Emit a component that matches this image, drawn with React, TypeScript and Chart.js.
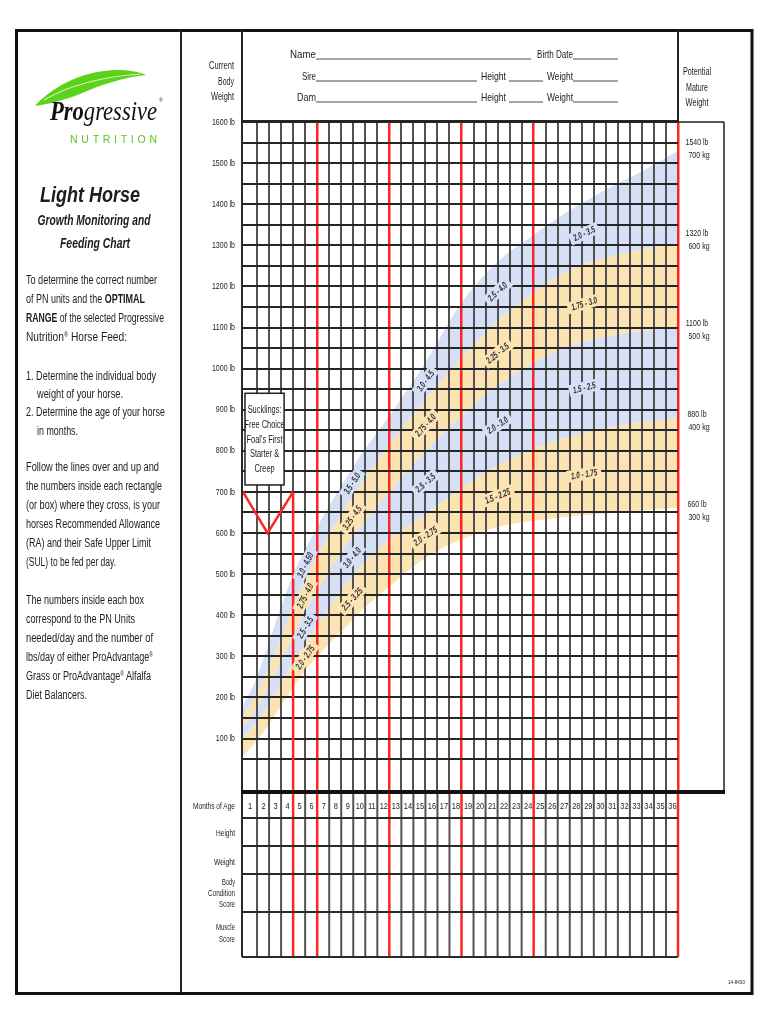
import React, { useEffect, useRef } from 'react';
import { Chart, registerables } from 'chart.js';

Chart.register(...registerables);

// ---------------- DATA ----------------
const MONTH_POINTS = [-0.25, 1, 2, 3, 4, 5, 6, 8, 10, 12, 15, 18, 21, 24, 27, 30, 33, 36];
// band edges (lb) from top to bottom
const EDGE_1 = [175, 250, 335, 420, 500, 560, 615, 715, 805, 885, 1015, 1160, 1260, 1325, 1385, 1435, 1480, 1530];
const EDGE_2 = [150, 210, 275, 345, 420, 485, 545, 645, 735, 815, 925, 1025, 1115, 1185, 1240, 1270, 1290, 1305];
const EDGE_3 = [125, 175, 230, 290, 350, 410, 460, 555, 630, 700, 800, 885, 960, 1015, 1055, 1078, 1092, 1100];
const EDGE_4 = [100, 140, 185, 235, 285, 330, 375, 460, 530, 585, 645, 710, 765, 805, 835, 855, 870, 880];
const EDGE_5 = [55, 95, 135, 180, 225, 265, 300, 360, 420, 470, 540, 585, 615, 630, 640, 648, 655, 662];
const BAND_EDGES = [EDGE_1, EDGE_2, EDGE_3, EDGE_4, EDGE_5];

const BLUE = '#d5e0f6';
const YELLOW = '#fce3b2';
const BAND_COLORS = [BLUE, YELLOW, BLUE, YELLOW];

const LABEL_MONTHS = [5, 8.9, 15, 21, 28.2];
const BAND_LABELS = [
  ['3.0 - 4.50', '3.5 - 5.0', '3.0 - 4.5', '2.5 - 4.0', '2.0 - 3.5'],
  ['2.75 - 4.0', '3.25 - 4.5', '2.75 - 4.0', '2.25 - 3.5', '1.75 - 3.0'],
  ['2.5 - 3.5', '3.0 - 4.0', '2.5 - 3.5', '2.0 - 3.0', '1.5 - 2.5'],
  ['2.0 - 2.75', '2.5 - 3.25', '2.0 - 2.75', '1.5 - 2.25', '1.0 - 1.75'],
];

const MONTH_LABELS = ['1', '2', '3', '4', '5', '6', '7', '8', '9', '10', '11', '12', '13', '14', '15', '16', '17', '18',
  '19', '20', '21', '22', '23', '24', '25', '26', '27', '28', '29', '30', '31', '32', '33', '34', '35', '36'];
const RED_MONTHS = [6, 12, 18, 24, 36];
const WEIGHT_LABELS = [100, 200, 300, 400, 500, 600, 700, 800, 900, 1000, 1100, 1200, 1300, 1400, 1500, 1600];
const GRID_WEIGHTS = [50, 100, 150, 200, 250, 300, 350, 400, 450, 500, 550, 600, 650, 700, 750, 800, 850, 900,
  950, 1000, 1050, 1100, 1150, 1200, 1250, 1300, 1350, 1400, 1450, 1500, 1550, 1600];
const MATURE_LB = [1540, 1320, 1100, 880, 660];
const MATURE_KG = [700, 600, 500, 400, 300];
const SUCKLING_LINES = ['Sucklings:', 'Free Choice', "Foal's First", 'Starter &', 'Creep'];
const V_MONTHS = [-0.25, 1.875, 4];
const V_WEIGHTS = [700, 600, 700];

// ---------------- STYLE ----------------
const RED = '#ff2424';
const GRID_DARK = '#262626';
const GRID_GRAY = '#525252';
const CANVAS_FONT = '"Liberation Sans", Arial, sans-serif';
const SANS = '"Liberation Sans", Arial, sans-serif';
const SERIF = '"Liberation Serif", "Times New Roman", serif';
const INK = '#1c1c1c';

function interp(edge: number[], m: number) {
  for (let i = 0; i < MONTH_POINTS.length - 1; i++) {
    const a = MONTH_POINTS[i];
    const b = MONTH_POINTS[i + 1];
    if (m >= a && m <= b) {
      const t = (m - a) / (b - a);
      return edge[i] + t * (edge[i + 1] - edge[i]);
    }
  }
  return edge[edge.length - 1];
}

function narrowText(ctx: CanvasRenderingContext2D, txt: string, x: number, y: number, sx: number, align: CanvasTextAlign) {
  ctx.save();
  ctx.translate(x, y);
  ctx.scale(sx, 1);
  ctx.textAlign = align;
  ctx.textBaseline = 'middle';
  ctx.fillText(txt, 0, 0);
  ctx.restore();
}

const extrasPlugin = {
  id: 'extras',
  afterDraw(chart: any) {
    const ctx: CanvasRenderingContext2D = chart.ctx;
    const xs = chart.scales.x;
    const ys = chart.scales.y;
    const { left, right, top, bottom } = chart.chartArea;
    const rows = [bottom, bottom + 26, bottom + 54, bottom + 82, bottom + 120, bottom + 165];
    const tableBottom = rows[5];

    ctx.save();
    // red month-4 line below 700 lb and the V
    ctx.strokeStyle = RED;
    ctx.lineWidth = 2.5;
    ctx.beginPath();
    ctx.moveTo(xs.getPixelForValue(4), ys.getPixelForValue(700));
    ctx.lineTo(xs.getPixelForValue(4), bottom);
    ctx.stroke();
    ctx.beginPath();
    V_MONTHS.forEach((m, i) => {
      const px = Math.max(left + 1, xs.getPixelForValue(m));
      const py = ys.getPixelForValue(V_WEIGHTS[i]);
      if (i === 0) ctx.moveTo(px, py); else ctx.lineTo(px, py);
    });
    ctx.stroke();

    // band labels with knockouts
    ctx.font = `italic bold 9.5px ${CANVAS_FONT}`;
    BAND_LABELS.forEach((row, b) => {
      const mid = (mm: number) => (interp(BAND_EDGES[b], mm) + interp(BAND_EDGES[b + 1], mm)) / 2;
      row.forEach((txt, c) => {
        const m = LABEL_MONTHS[c];
        const px = xs.getPixelForValue(m);
        const py = ys.getPixelForValue(mid(m));
        const d = 1;
        const ang = Math.atan2(
          ys.getPixelForValue(mid(m + d)) - ys.getPixelForValue(mid(m - d)),
          xs.getPixelForValue(m + d) - xs.getPixelForValue(m - d)
        );
        const sx = 0.66;
        const w = ctx.measureText(txt).width * sx;
        ctx.save();
        ctx.translate(px, py);
        ctx.rotate(ang);
        ctx.fillStyle = BAND_COLORS[b];
        ctx.fillRect(-w / 2 - 4, -6, w + 8, 12);
        ctx.scale(sx, 1);
        ctx.fillStyle = '#303030';
        ctx.textAlign = 'center';
        ctx.textBaseline = 'middle';
        ctx.fillText(txt, 0, 0.5);
        ctx.restore();
      });
    });

    // sucklings box
    const bx0 = xs.getPixelForValue(0);
    const bx1 = xs.getPixelForValue(3.25);
    const by0 = ys.getPixelForValue(940);
    const by1 = ys.getPixelForValue(717);
    ctx.fillStyle = '#ffffff';
    ctx.fillRect(bx0, by0, bx1 - bx0, by1 - by0);
    ctx.strokeStyle = '#222';
    ctx.lineWidth = 1.5;
    ctx.strokeRect(bx0, by0, bx1 - bx0, by1 - by0);
    ctx.fillStyle = INK;
    ctx.font = `10px ${CANVAS_FONT}`;
    SUCKLING_LINES.forEach((t, i) => {
      narrowText(ctx, t, (bx0 + bx1) / 2, by0 + 17 + i * 14.8, 0.74, 'center');
    });

    // y labels
    ctx.font = `9.5px ${CANVAS_FONT}`;
    ctx.fillStyle = INK;
    WEIGHT_LABELS.forEach((v) => {
      narrowText(ctx, `${v} lb`, left - 7, ys.getPixelForValue(v), 0.74, 'right');
    });

    // right column box + mature weights
    const colRight = right + 46;
    ctx.strokeStyle = '#222';
    ctx.lineWidth = 1.5;
    ctx.beginPath();
    ctx.moveTo(right, top);
    ctx.lineTo(colRight, top);
    ctx.moveTo(colRight, top);
    ctx.lineTo(colRight, bottom);
    ctx.stroke();
    ctx.font = `9.5px ${CANVAS_FONT}`;
    ctx.fillStyle = INK;
    MATURE_LB.forEach((lb, i) => {
      const py = ys.getPixelForValue(lb);
      narrowText(ctx, `${lb} lb`, right + 19, py - 4, 0.74, 'center');
      narrowText(ctx, `${MATURE_KG[i]} kg`, right + 21, py + 9, 0.74, 'center');
    });

    // table below the chart
    MONTH_LABELS.forEach((_, i) => {
      const m = i + 1;
      const px = xs.getPixelForValue(m);
      const red = RED_MONTHS.includes(m) || m === 4;
      ctx.strokeStyle = red ? RED : GRID_GRAY;
      ctx.lineWidth = red ? 2.5 : 2;
      ctx.beginPath();
      ctx.moveTo(px, bottom);
      ctx.lineTo(px, tableBottom);
      ctx.stroke();
    });
    ctx.strokeStyle = '#2a2a2a';
    ctx.lineWidth = 2;
    for (let r = 1; r < rows.length; r++) {
      ctx.beginPath();
      ctx.moveTo(left, rows[r]);
      ctx.lineTo(right, rows[r]);
      ctx.stroke();
    }
    // left border
    ctx.beginPath();
    ctx.moveTo(left, top);
    ctx.lineTo(left, tableBottom);
    ctx.stroke();
    // thick line at chart bottom
    ctx.strokeStyle = '#111';
    ctx.lineWidth = 4;
    ctx.beginPath();
    ctx.moveTo(left - 1, bottom);
    ctx.lineTo(colRight + 1, bottom);
    ctx.stroke();

    // month numbers
    ctx.font = `9.5px ${CANVAS_FONT}`;
    ctx.fillStyle = INK;
    MONTH_LABELS.forEach((lab, i) => {
      const m = i + 1;
      const x0 = i === 0 ? left : xs.getPixelForValue(m - 1);
      const x1 = xs.getPixelForValue(m);
      narrowText(ctx, lab, (x0 + x1) / 2 + 0.5, (rows[0] + rows[1]) / 2 + 1, 0.78, 'center');
    });
    ctx.restore();
  },
};

// ---------------- STATIC TEXT ----------------
type Seg = { t: string; b?: boolean; sup?: boolean };
const PARA_LINES: { segs: Seg[]; x: number; y: number; w: number }[] = [
  { segs: [{ t: 'To determine the correct number' }], x: 26, y: 284, w: 131 },
  { segs: [{ t: 'of PN units and the ' }, { t: 'OPTIMAL', b: true }], x: 26, y: 303, w: 119 },
  { segs: [{ t: 'RANGE', b: true }, { t: ' of the selected Progressive' }], x: 26, y: 322, w: 138 },
  { segs: [{ t: 'Nutrition' }, { t: '®', sup: true }, { t: ' Horse Feed:' }], x: 26, y: 341, w: 101 },
  { segs: [{ t: '1. Determine the individual body' }], x: 26, y: 380, w: 130 },
  { segs: [{ t: 'weight of your horse.' }], x: 37, y: 398, w: 86 },
  { segs: [{ t: '2. Determine the age of your horse' }], x: 26, y: 416, w: 139 },
  { segs: [{ t: 'in months.' }], x: 37, y: 435, w: 41 },
  { segs: [{ t: 'Follow the lines over and up and' }], x: 26, y: 471, w: 133 },
  { segs: [{ t: 'the numbers inside each rectangle' }], x: 26, y: 490, w: 136 },
  { segs: [{ t: '(or box) where they cross, is your' }], x: 26, y: 509, w: 134 },
  { segs: [{ t: 'horses Recommended Allowance' }], x: 26, y: 528, w: 134 },
  { segs: [{ t: '(RA) and their Safe Upper Limit' }], x: 26, y: 547, w: 125 },
  { segs: [{ t: '(SUL) to be fed per day.' }], x: 26, y: 566, w: 90 },
  { segs: [{ t: 'The numbers inside each box' }], x: 26, y: 604, w: 118 },
  { segs: [{ t: 'correspond to the PN Units' }], x: 26, y: 623, w: 109 },
  { segs: [{ t: 'needed/day and the number of' }], x: 26, y: 642, w: 127 },
  { segs: [{ t: 'lbs/day of either ProAdvantage' }, { t: '®', sup: true }], x: 26, y: 661, w: 127 },
  { segs: [{ t: 'Grass or ProAdvantage' }, { t: '®', sup: true }, { t: ' Alfalfa' }], x: 26, y: 680, w: 125 },
  { segs: [{ t: 'Diet Balancers.' }], x: 26, y: 699, w: 61 },
];

const ROW_LABELS: { t: string; y: number; w: number }[] = [
  { t: 'Months of Age', y: 809, w: 42 },
  { t: 'Height', y: 836, w: 19 },
  { t: 'Weight', y: 865, w: 21 },
  { t: 'Body', y: 885, w: 13 },
  { t: 'Condition', y: 896, w: 27 },
  { t: 'Score', y: 907, w: 16 },
  { t: 'Muscle', y: 930, w: 19 },
  { t: 'Score', y: 942, w: 16 },
];

function Txt(p: { x: number; y: number; w?: number; s?: number; a?: string; b?: boolean; i?: boolean; fill?: string; f?: string; children: any }) {
  return (
    <text
      x={p.x}
      y={p.y}
      textLength={p.w}
      lengthAdjust={p.w ? 'spacingAndGlyphs' : undefined}
      fontSize={p.s ?? 11.5}
      textAnchor={(p.a as any) ?? 'start'}
      fontWeight={p.b ? 'bold' : 'normal'}
      fontStyle={p.i ? 'italic' : 'normal'}
      fill={p.fill ?? INK}
      fontFamily={p.f ?? SANS}
    >
      {p.children}
    </text>
  );
}

function Overlay() {
  const line = (x1: number, y1: number, x2: number, y2: number, w = 2, c = '#222') => (
    <line x1={x1} y1={y1} x2={x2} y2={y2} stroke={c} strokeWidth={w} />
  );
  const formRows = [
    { y: 58 },
    { y: 80 },
    { y: 101 },
  ];
  return (
    <svg width={770} height={1024} viewBox="0 0 770 1024" style={{ position: 'absolute', left: 0, top: 0, pointerEvents: 'none' }}>
      <rect x={16.5} y={30.5} width={735.5} height={963} fill="none" stroke="#111" strokeWidth={3} />
      {line(181, 30, 181, 993, 2)}
      {line(242, 30, 242, 122, 2)}
      {line(678, 30, 678, 122, 2)}
      {line(242, 121, 678, 121, 2)}

      {/* logo */}
      <path d="M35,106 C50,89 80,71 115,70 C130,70 140,72 146,75 C125,77 100,85 80,94 C62,101 48,104 35,106 Z" fill="#5cd21c" />
      <path d="M44,100 C68,86 100,77 140,74" stroke="#d6f7bf" strokeWidth={1.2} fill="none" />
      <text x={50} y={120} textLength={107} lengthAdjust="spacingAndGlyphs" fontSize={28} fontStyle="italic" fontFamily={SERIF} fill="#111">
        <tspan fontWeight="bold">Pro</tspan>
        <tspan>gressive</tspan>
      </text>
      <Txt x={159} y={102} s={5}>®</Txt>
      <text x={70} y={143} textLength={87} lengthAdjust="spacing" fontSize={10.5} fontFamily={SANS} fill="#5cc41c">NUTRITION</text>

      {/* title */}
      <Txt x={90} y={202} w={100} s={22} a="middle" b i>Light Horse</Txt>
      <Txt x={94} y={225} w={113} s={14} a="middle" b i>Growth Monitoring and</Txt>
      <Txt x={95} y={248} w={70} s={14} a="middle" b i>Feeding Chart</Txt>

      {PARA_LINES.map((l, k) => (
        <text key={k} x={l.x} y={l.y} textLength={l.w} lengthAdjust="spacingAndGlyphs" fontSize={12.5} fontFamily={SANS} fill={INK}>
          {l.segs.map((s, j) => (
            <tspan key={j} fontWeight={s.b ? 'bold' : 'normal'} fontSize={s.sup ? 7 : undefined} dy={s.sup ? -4 : j > 0 && l.segs[j - 1].sup ? 4 : 0}>
              {s.t}
            </tspan>
          ))}
        </text>
      ))}

      {/* current body weight */}
      <Txt x={234} y={69} w={25} s={11} a="end">Current</Txt>
      <Txt x={234} y={85} w={16} s={11} a="end">Body</Txt>
      <Txt x={234} y={100} w={23} s={11} a="end">Weight</Txt>

      {/* header form */}
      <Txt x={316} y={formRows[0].y} w={26} a="end">Name</Txt>
      {line(316, 59, 531, 59, 0.9, '#333')}
      <Txt x={537} y={formRows[0].y} w={36}>Birth Date</Txt>
      {line(573, 59, 618, 59, 0.9, '#333')}
      <Txt x={316} y={formRows[1].y} w={14} a="end">Sire</Txt>
      {line(316, 81, 477, 81, 0.9, '#333')}
      <Txt x={481} y={formRows[1].y} w={25}>Height</Txt>
      {line(509, 81, 543, 81, 0.9, '#333')}
      <Txt x={547} y={formRows[1].y} w={26}>Weight</Txt>
      {line(573, 81, 618, 81, 0.9, '#333')}
      <Txt x={316} y={formRows[2].y} w={19} a="end">Dam</Txt>
      {line(316, 102, 477, 102, 0.9, '#333')}
      <Txt x={481} y={formRows[2].y} w={25}>Height</Txt>
      {line(509, 102, 543, 102, 0.9, '#333')}
      <Txt x={547} y={formRows[2].y} w={26}>Weight</Txt>
      {line(573, 102, 618, 102, 0.9, '#333')}

      {/* potential mature weight */}
      <Txt x={697} y={75} w={28} s={11} a="middle">Potential</Txt>
      <Txt x={697} y={91} w={22} s={11} a="middle">Mature</Txt>
      <Txt x={697} y={106} w={23} s={11} a="middle">Weight</Txt>

      {ROW_LABELS.map((r, k) => (
        <Txt key={k} x={235} y={r.y} w={r.w} s={9.5} a="end">{r.t}</Txt>
      ))}

      <Txt x={745} y={984} w={17} s={6} a="end">14-8430</Txt>
    </svg>
  );
}

export default function App() {
  const canvasRef = useRef<HTMLCanvasElement>(null);

  useEffect(() => {
    const canvas = canvasRef.current;
    if (!canvas) return;
    const datasets = BAND_EDGES.map((edge, i) => ({
      label: `edge${i + 1}`,
      data: MONTH_POINTS.map((m, j) => ({ x: m, y: edge[j] })),
      fill: i < 4 ? '+1' : false,
      backgroundColor: i < 4 ? BAND_COLORS[i] : 'transparent',
      borderColor: 'transparent',
      borderWidth: 0,
      pointRadius: 0,
      cubicInterpolationMode: 'monotone' as const,
    }));
    const chart = new Chart(canvas, {
      type: 'line',
      data: { datasets: datasets as any },
      options: {
        responsive: false,
        animation: false,
        devicePixelRatio: 1,
        layout: { padding: { top: 122, right: 92, bottom: 0, left: 0 } },
        plugins: { legend: { display: false }, tooltip: { enabled: false } },
        scales: {
          x: {
            type: 'linear',
            min: -0.25,
            max: 36,
            position: 'bottom',
            afterBuildTicks: (s: any) => {
              s.ticks = MONTH_LABELS.map((_, i) => ({ value: i + 1 }));
            },
            afterFit: (s: any) => {
              s.height = 232;
            },
            ticks: { display: false },
            border: { display: false },
            grid: {
              z: 1,
              drawTicks: false,
              color: (c: any) => (RED_MONTHS.includes(c.tick?.value) ? RED : GRID_GRAY),
              lineWidth: (c: any) => (RED_MONTHS.includes(c.tick?.value) ? 2.5 : 2),
            },
          } as any,
          y: {
            type: 'linear',
            min: -30,
            max: 1600,
            afterBuildTicks: (s: any) => {
              s.ticks = GRID_WEIGHTS.map((v) => ({ value: v }));
            },
            afterFit: (s: any) => {
              s.width = 242;
            },
            ticks: { display: false },
            border: { display: false },
            grid: { z: 1, drawTicks: false, color: GRID_DARK, lineWidth: 2 },
          } as any,
        },
      },
      plugins: [extrasPlugin],
    });
    return () => chart.destroy();
  }, []);

  return (
    <div style={{ position: 'absolute', left: 0, top: 0, width: 770, height: 1024, background: '#fff' }}>
      <canvas ref={canvasRef} width={770} height={1024} style={{ position: 'absolute', left: 0, top: 0, width: 770, height: 1024 }} />
      <Overlay />
    </div>
  );
}
